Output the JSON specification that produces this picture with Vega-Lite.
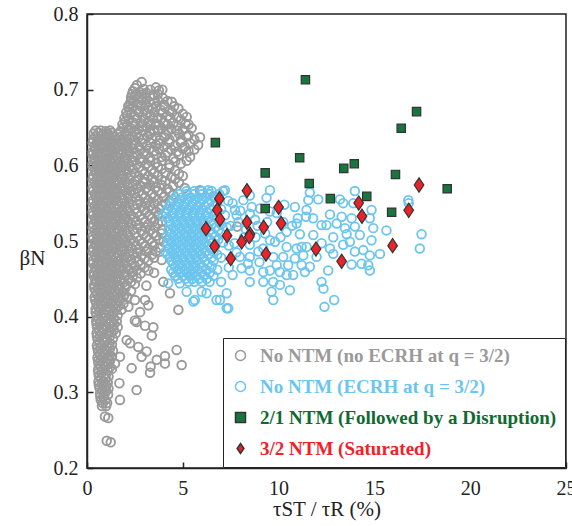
{
"$schema": "https://vega.github.io/schema/vega-lite/v6.json",
"width": 479, "height": 454,
"autosize": {"type": "none"},
"padding": {"left": 87, "top": 14, "right": 6, "bottom": 58},
"background": "white",
"config": {
  "view": {"stroke": "#222222", "strokeWidth": 1.5},
  "font": "Liberation Serif",
  "axis": {"labelFont": "Liberation Serif", "titleFont": "Liberation Serif", "labelFontSize": 20, "titleFontSize": 21, "titleFontWeight": "normal", "labelColor": "#222222", "titleColor": "#222222", "domainColor": "#222222", "tickColor": "#222222", "domainWidth": 1.5, "tickWidth": 1.5, "grid": false, "tickSize": -6}
},
"datasets": {
"gray": [
{"x":2.6,"y":0.706},{"x":2.85,"y":0.71},{"x":3.6,"y":0.703},
{"x":2.4,"y":0.698},{"x":2.75,"y":0.697},{"x":3.1,"y":0.696},{"x":3.93,"y":0.7},
{"x":2.3,"y":0.69},{"x":2.7,"y":0.689},{"x":3.1,"y":0.688},{"x":3.46,"y":0.693},{"x":3.95,"y":0.689},
{"x":2.25,"y":0.682},{"x":2.65,"y":0.681},{"x":3.05,"y":0.68},{"x":3.5,"y":0.682},{"x":4.0,"y":0.68},{"x":4.42,"y":0.684},
{"x":2.2,"y":0.674},{"x":2.6,"y":0.673},{"x":3.0,"y":0.672},{"x":3.4,"y":0.675},{"x":3.85,"y":0.673},{"x":4.3,"y":0.672},{"x":4.77,"y":0.675},
{"x":2.1,"y":0.666},{"x":2.5,"y":0.665},{"x":2.9,"y":0.664},{"x":3.3,"y":0.666},{"x":3.7,"y":0.663},{"x":4.2,"y":0.665},{"x":4.7,"y":0.664},{"x":5.2,"y":0.664},
{"x":2.0,"y":0.658},{"x":2.4,"y":0.657},{"x":2.8,"y":0.656},{"x":3.2,"y":0.658},{"x":3.6,"y":0.655},{"x":4.0,"y":0.657},{"x":4.5,"y":0.656},{"x":5.15,"y":0.655},
{"x":1.9,"y":0.65},{"x":2.3,"y":0.649},{"x":2.7,"y":0.648},{"x":3.1,"y":0.65},{"x":3.5,"y":0.647},{"x":3.9,"y":0.649},{"x":4.4,"y":0.648},{"x":5.0,"y":0.647},{"x":5.46,"y":0.649},
{"x":2.5,"y":0.702},{"x":2.95,"y":0.701},{"x":3.3,"y":0.7},{"x":3.75,"y":0.699},
{"x":2.35,"y":0.694},{"x":2.55,"y":0.693},{"x":2.9,"y":0.694},{"x":3.3,"y":0.692},{"x":3.7,"y":0.694},
{"x":2.3,"y":0.686},{"x":2.45,"y":0.685},{"x":2.85,"y":0.686},{"x":3.25,"y":0.684},{"x":3.7,"y":0.686},{"x":4.2,"y":0.685},
{"x":2.15,"y":0.678},{"x":2.4,"y":0.677},{"x":2.8,"y":0.678},{"x":3.2,"y":0.676},{"x":3.6,"y":0.678},{"x":4.05,"y":0.677},{"x":4.55,"y":0.678},
{"x":2.05,"y":0.67},{"x":2.3,"y":0.669},{"x":2.7,"y":0.67},{"x":3.1,"y":0.668},{"x":3.5,"y":0.67},{"x":3.95,"y":0.669},{"x":4.45,"y":0.67},{"x":5.0,"y":0.668},
{"x":1.95,"y":0.662},{"x":2.2,"y":0.661},{"x":2.6,"y":0.662},{"x":3.0,"y":0.66},{"x":3.45,"y":0.662},{"x":3.85,"y":0.661},{"x":4.35,"y":0.662},{"x":4.9,"y":0.66},
{"x":1.85,"y":0.654},{"x":2.1,"y":0.653},{"x":2.5,"y":0.654},{"x":2.9,"y":0.652},{"x":3.3,"y":0.654},{"x":3.75,"y":0.653},{"x":4.2,"y":0.654},{"x":4.75,"y":0.652},{"x":5.3,"y":0.654},
{"x":0.45,"y":0.646},{"x":0.72,"y":0.646},{"x":0.98,"y":0.645},{"x":1.2,"y":0.646},{"x":1.75,"y":0.645},{"x":2.15,"y":0.646},{"x":2.5,"y":0.645},{"x":2.9,"y":0.646},{"x":3.3,"y":0.645},{"x":3.7,"y":0.646},{"x":4.2,"y":0.645},{"x":4.7,"y":0.646},
{"x":0.35,"y":0.642},{"x":0.6,"y":0.643},{"x":0.85,"y":0.641},{"x":1.1,"y":0.642},{"x":1.3,"y":0.643},{"x":1.6,"y":0.641},{"x":2.0,"y":0.642},{"x":2.6,"y":0.641},{"x":3.3,"y":0.642},{"x":4.1,"y":0.641},{"x":4.8,"y":0.642},{"x":5.3,"y":0.64},
{"x":0.45,"y":0.638},{"x":0.68,"y":0.638},{"x":0.92,"y":0.637},{"x":1.18,"y":0.638},{"x":1.42,"y":0.638},{"x":1.7,"y":0.637},{"x":2.05,"y":0.638},{"x":2.35,"y":0.638},{"x":2.7,"y":0.637},{"x":3.15,"y":0.638},{"x":3.6,"y":0.638},{"x":4.05,"y":0.637},{"x":4.6,"y":0.638},{"x":5.2,"y":0.638},
{"x":0.32,"y":0.634},{"x":0.55,"y":0.634},{"x":0.8,"y":0.633},{"x":1.05,"y":0.635},{"x":1.3,"y":0.634},{"x":1.55,"y":0.633},{"x":1.85,"y":0.634},{"x":2.2,"y":0.635},{"x":2.5,"y":0.633},{"x":2.9,"y":0.634},{"x":3.4,"y":0.635},{"x":3.8,"y":0.633},{"x":4.3,"y":0.634},{"x":4.9,"y":0.633},{"x":5.6,"y":0.634},{"x":5.9,"y":0.637},
{"x":0.3,"y":0.63},{"x":0.52,"y":0.63},{"x":0.78,"y":0.629},{"x":1.02,"y":0.63},{"x":1.28,"y":0.63},{"x":1.55,"y":0.629},{"x":1.85,"y":0.63},{"x":2.15,"y":0.63},{"x":2.5,"y":0.629},{"x":2.9,"y":0.63},{"x":3.3,"y":0.63},{"x":3.8,"y":0.629},{"x":4.3,"y":0.63},{"x":4.9,"y":0.63},{"x":5.4,"y":0.629},
{"x":0.4,"y":0.626},{"x":0.65,"y":0.626},{"x":0.9,"y":0.625},{"x":1.15,"y":0.627},{"x":1.4,"y":0.626},{"x":1.7,"y":0.625},{"x":2.0,"y":0.626},{"x":2.35,"y":0.627},{"x":2.7,"y":0.625},{"x":3.1,"y":0.626},{"x":3.6,"y":0.627},{"x":4.0,"y":0.625},{"x":4.6,"y":0.626},{"x":5.1,"y":0.625},{"x":5.8,"y":0.627},
{"x":0.42,"y":0.622},{"x":0.68,"y":0.622},{"x":0.92,"y":0.621},{"x":1.18,"y":0.622},{"x":1.45,"y":0.622},{"x":1.75,"y":0.621},{"x":2.05,"y":0.622},{"x":2.4,"y":0.622},{"x":2.8,"y":0.621},{"x":3.25,"y":0.622},{"x":3.75,"y":0.622},{"x":4.4,"y":0.621},{"x":5.0,"y":0.622},{"x":5.6,"y":0.621},
{"x":0.3,"y":0.618},{"x":0.55,"y":0.618},{"x":0.8,"y":0.617},{"x":1.05,"y":0.619},{"x":1.3,"y":0.618},{"x":1.6,"y":0.617},{"x":1.9,"y":0.618},{"x":2.2,"y":0.619},{"x":2.55,"y":0.617},{"x":3.0,"y":0.618},{"x":3.5,"y":0.619},{"x":4.2,"y":0.617},{"x":4.7,"y":0.618},{"x":5.3,"y":0.619},
{"x":0.3,"y":0.614},{"x":0.5,"y":0.614},{"x":0.75,"y":0.613},{"x":1.0,"y":0.614},{"x":1.25,"y":0.614},{"x":1.5,"y":0.613},{"x":1.8,"y":0.614},{"x":2.2,"y":0.614},{"x":2.6,"y":0.613},{"x":3.05,"y":0.614},{"x":3.6,"y":0.614},{"x":4.1,"y":0.613},{"x":4.8,"y":0.614},
{"x":0.38,"y":0.61},{"x":0.62,"y":0.61},{"x":0.88,"y":0.609},{"x":1.12,"y":0.611},{"x":1.38,"y":0.61},{"x":1.65,"y":0.609},{"x":2.0,"y":0.61},{"x":2.4,"y":0.611},{"x":2.8,"y":0.609},{"x":3.3,"y":0.61},{"x":3.9,"y":0.611},{"x":4.5,"y":0.609},{"x":5.38,"y":0.611},
{"x":0.42,"y":0.606},{"x":0.68,"y":0.606},{"x":0.92,"y":0.605},{"x":1.18,"y":0.606},{"x":1.42,"y":0.606},{"x":1.7,"y":0.605},{"x":2.0,"y":0.606},{"x":2.35,"y":0.606},{"x":2.8,"y":0.605},{"x":3.3,"y":0.606},{"x":3.9,"y":0.606},{"x":4.6,"y":0.605},{"x":5.2,"y":0.606},
{"x":0.3,"y":0.602},{"x":0.55,"y":0.602},{"x":0.8,"y":0.601},{"x":1.05,"y":0.603},{"x":1.3,"y":0.602},{"x":1.55,"y":0.601},{"x":1.85,"y":0.602},{"x":2.15,"y":0.603},{"x":2.6,"y":0.601},{"x":3.1,"y":0.602},{"x":3.6,"y":0.603},{"x":4.3,"y":0.601},{"x":4.9,"y":0.602},
{"x":0.3,"y":0.598},{"x":0.55,"y":0.598},{"x":0.8,"y":0.597},{"x":1.05,"y":0.598},{"x":1.3,"y":0.598},{"x":1.6,"y":0.597},{"x":1.9,"y":0.598},{"x":2.25,"y":0.598},{"x":2.7,"y":0.597},{"x":3.2,"y":0.598},{"x":3.7,"y":0.598},{"x":4.3,"y":0.597},
{"x":0.42,"y":0.594},{"x":0.68,"y":0.594},{"x":0.92,"y":0.593},{"x":1.18,"y":0.595},{"x":1.45,"y":0.594},{"x":1.75,"y":0.593},{"x":2.05,"y":0.594},{"x":2.4,"y":0.595},{"x":2.9,"y":0.593},{"x":3.4,"y":0.594},{"x":3.9,"y":0.595},{"x":4.6,"y":0.593},
{"x":0.45,"y":0.59},{"x":0.7,"y":0.59},{"x":0.95,"y":0.589},{"x":1.2,"y":0.59},{"x":1.48,"y":0.59},{"x":1.78,"y":0.589},{"x":2.1,"y":0.59},{"x":2.5,"y":0.59},{"x":3.0,"y":0.589},{"x":3.5,"y":0.59},{"x":4.1,"y":0.59},{"x":4.8,"y":0.589},
{"x":0.33,"y":0.586},{"x":0.58,"y":0.586},{"x":0.82,"y":0.585},{"x":1.08,"y":0.587},{"x":1.35,"y":0.586},{"x":1.6,"y":0.585},{"x":1.9,"y":0.586},{"x":2.3,"y":0.587},{"x":2.7,"y":0.585},{"x":3.2,"y":0.586},{"x":3.7,"y":0.587},{"x":4.4,"y":0.585},{"x":5.0,"y":0.586},
{"x":0.3,"y":0.582},{"x":0.52,"y":0.582},{"x":0.78,"y":0.581},{"x":1.02,"y":0.582},{"x":1.28,"y":0.582},{"x":1.55,"y":0.581},{"x":1.85,"y":0.582},{"x":2.2,"y":0.582},{"x":2.6,"y":0.581},{"x":3.0,"y":0.582},{"x":3.4,"y":0.582},{"x":3.9,"y":0.581},{"x":4.6,"y":0.582},
{"x":0.4,"y":0.578},{"x":0.65,"y":0.578},{"x":0.9,"y":0.577},{"x":1.15,"y":0.579},{"x":1.42,"y":0.578},{"x":1.7,"y":0.577},{"x":2.0,"y":0.578},{"x":2.5,"y":0.579},{"x":3.0,"y":0.577},{"x":3.5,"y":0.578},{"x":4.1,"y":0.579},{"x":4.8,"y":0.577},
{"x":0.45,"y":0.574},{"x":0.7,"y":0.574},{"x":0.95,"y":0.573},{"x":1.2,"y":0.574},{"x":1.48,"y":0.574},{"x":1.78,"y":0.573},{"x":2.1,"y":0.574},{"x":2.4,"y":0.574},{"x":2.8,"y":0.573},{"x":3.3,"y":0.574},{"x":3.9,"y":0.574},{"x":4.5,"y":0.573},
{"x":0.3,"y":0.57},{"x":0.55,"y":0.57},{"x":0.8,"y":0.569},{"x":1.05,"y":0.571},{"x":1.3,"y":0.57},{"x":1.55,"y":0.569},{"x":1.85,"y":0.57},{"x":2.2,"y":0.571},{"x":2.6,"y":0.569},{"x":3.1,"y":0.57},{"x":3.6,"y":0.571},{"x":4.2,"y":0.569},{"x":5.1,"y":0.57},
{"x":0.32,"y":0.566},{"x":0.55,"y":0.566},{"x":0.8,"y":0.565},{"x":1.05,"y":0.566},{"x":1.32,"y":0.566},{"x":1.6,"y":0.565},{"x":1.95,"y":0.566},{"x":2.3,"y":0.566},{"x":2.7,"y":0.565},{"x":3.2,"y":0.566},{"x":3.7,"y":0.566},{"x":4.3,"y":0.565},
{"x":0.42,"y":0.562},{"x":0.68,"y":0.562},{"x":0.92,"y":0.561},{"x":1.2,"y":0.563},{"x":1.48,"y":0.562},{"x":1.78,"y":0.561},{"x":2.1,"y":0.562},{"x":2.45,"y":0.563},{"x":2.9,"y":0.561},{"x":3.4,"y":0.562},{"x":3.9,"y":0.563},{"x":4.5,"y":0.561},
{"x":0.45,"y":0.558},{"x":0.7,"y":0.558},{"x":0.95,"y":0.557},{"x":1.22,"y":0.558},{"x":1.5,"y":0.558},{"x":1.8,"y":0.557},{"x":2.15,"y":0.558},{"x":2.55,"y":0.558},{"x":3.0,"y":0.557},{"x":3.5,"y":0.558},{"x":4.0,"y":0.558},
{"x":0.32,"y":0.554},{"x":0.58,"y":0.554},{"x":0.82,"y":0.553},{"x":1.08,"y":0.555},{"x":1.35,"y":0.554},{"x":1.62,"y":0.553},{"x":1.95,"y":0.554},{"x":2.3,"y":0.555},{"x":2.75,"y":0.553},{"x":3.2,"y":0.554},{"x":3.7,"y":0.555},{"x":4.3,"y":0.553},
{"x":0.3,"y":0.55},{"x":0.52,"y":0.55},{"x":0.78,"y":0.549},{"x":1.02,"y":0.55},{"x":1.28,"y":0.55},{"x":1.55,"y":0.549},{"x":1.85,"y":0.55},{"x":2.2,"y":0.55},{"x":2.6,"y":0.549},{"x":3.05,"y":0.55},{"x":3.5,"y":0.55},{"x":4.1,"y":0.549},
{"x":0.4,"y":0.546},{"x":0.65,"y":0.546},{"x":0.9,"y":0.545},{"x":1.15,"y":0.547},{"x":1.42,"y":0.546},{"x":1.7,"y":0.545},{"x":2.0,"y":0.546},{"x":2.4,"y":0.547},{"x":2.85,"y":0.545},{"x":3.3,"y":0.546},{"x":3.9,"y":0.547},
{"x":0.45,"y":0.542},{"x":0.7,"y":0.542},{"x":0.95,"y":0.541},{"x":1.22,"y":0.542},{"x":1.5,"y":0.542},{"x":1.8,"y":0.541},{"x":2.1,"y":0.542},{"x":2.5,"y":0.542},{"x":3.0,"y":0.541},{"x":3.45,"y":0.542},{"x":3.8,"y":0.542},
{"x":0.3,"y":0.538},{"x":0.55,"y":0.538},{"x":0.8,"y":0.537},{"x":1.05,"y":0.539},{"x":1.3,"y":0.538},{"x":1.58,"y":0.537},{"x":1.88,"y":0.538},{"x":2.2,"y":0.539},{"x":2.6,"y":0.537},{"x":3.1,"y":0.538},{"x":3.6,"y":0.539},{"x":4.1,"y":0.537},
{"x":0.32,"y":0.534},{"x":0.55,"y":0.534},{"x":0.8,"y":0.533},{"x":1.05,"y":0.534},{"x":1.32,"y":0.534},{"x":1.62,"y":0.533},{"x":1.95,"y":0.534},{"x":2.3,"y":0.534},{"x":2.75,"y":0.533},{"x":3.25,"y":0.534},{"x":3.7,"y":0.534},
{"x":0.42,"y":0.53},{"x":0.68,"y":0.53},{"x":0.92,"y":0.529},{"x":1.18,"y":0.531},{"x":1.45,"y":0.53},{"x":1.75,"y":0.529},{"x":2.05,"y":0.53},{"x":2.45,"y":0.531},{"x":2.9,"y":0.529},{"x":3.4,"y":0.53},
{"x":0.45,"y":0.526},{"x":0.7,"y":0.526},{"x":0.95,"y":0.525},{"x":1.22,"y":0.526},{"x":1.5,"y":0.526},{"x":1.8,"y":0.525},{"x":2.15,"y":0.526},{"x":2.55,"y":0.526},{"x":3.0,"y":0.525},{"x":3.5,"y":0.526},{"x":3.9,"y":0.526},
{"x":0.33,"y":0.522},{"x":0.58,"y":0.522},{"x":0.82,"y":0.521},{"x":1.08,"y":0.523},{"x":1.35,"y":0.522},{"x":1.62,"y":0.521},{"x":1.92,"y":0.522},{"x":2.3,"y":0.523},{"x":2.7,"y":0.521},{"x":3.2,"y":0.522},{"x":3.7,"y":0.523},
{"x":0.3,"y":0.518},{"x":0.52,"y":0.518},{"x":0.78,"y":0.517},{"x":1.02,"y":0.518},{"x":1.28,"y":0.518},{"x":1.55,"y":0.517},{"x":1.85,"y":0.518},{"x":2.2,"y":0.518},{"x":2.6,"y":0.517},{"x":3.05,"y":0.518},{"x":3.55,"y":0.518},
{"x":0.4,"y":0.514},{"x":0.65,"y":0.514},{"x":0.9,"y":0.513},{"x":1.15,"y":0.515},{"x":1.42,"y":0.514},{"x":1.7,"y":0.513},{"x":2.0,"y":0.514},{"x":2.4,"y":0.515},{"x":2.85,"y":0.513},{"x":3.3,"y":0.514},{"x":3.9,"y":0.515},
{"x":0.45,"y":0.51},{"x":0.7,"y":0.51},{"x":0.95,"y":0.509},{"x":1.22,"y":0.51},{"x":1.5,"y":0.51},{"x":1.8,"y":0.509},{"x":2.1,"y":0.51},{"x":2.5,"y":0.51},{"x":2.95,"y":0.509},{"x":3.45,"y":0.51},{"x":3.9,"y":0.51},
{"x":0.3,"y":0.506},{"x":0.55,"y":0.506},{"x":0.8,"y":0.505},{"x":1.05,"y":0.507},{"x":1.3,"y":0.506},{"x":1.58,"y":0.505},{"x":1.88,"y":0.506},{"x":2.2,"y":0.507},{"x":2.6,"y":0.505},{"x":3.1,"y":0.506},{"x":3.6,"y":0.507},
{"x":0.32,"y":0.502},{"x":0.55,"y":0.502},{"x":0.8,"y":0.501},{"x":1.05,"y":0.502},{"x":1.32,"y":0.502},{"x":1.62,"y":0.501},{"x":1.95,"y":0.502},{"x":2.3,"y":0.502},{"x":2.75,"y":0.501},{"x":3.25,"y":0.502},{"x":3.75,"y":0.502},
{"x":0.42,"y":0.498},{"x":0.68,"y":0.498},{"x":0.92,"y":0.497},{"x":1.18,"y":0.499},{"x":1.45,"y":0.498},{"x":1.75,"y":0.497},{"x":2.05,"y":0.498},{"x":2.45,"y":0.499},{"x":2.9,"y":0.497},{"x":3.4,"y":0.498},{"x":4.0,"y":0.499},
{"x":0.45,"y":0.494},{"x":0.7,"y":0.494},{"x":0.95,"y":0.493},{"x":1.22,"y":0.494},{"x":1.5,"y":0.494},{"x":1.8,"y":0.493},{"x":2.15,"y":0.494},{"x":2.55,"y":0.494},{"x":3.0,"y":0.493},{"x":3.5,"y":0.494},
{"x":0.33,"y":0.49},{"x":0.58,"y":0.49},{"x":0.82,"y":0.489},{"x":1.08,"y":0.491},{"x":1.35,"y":0.49},{"x":1.62,"y":0.489},{"x":1.92,"y":0.49},{"x":2.3,"y":0.491},{"x":2.7,"y":0.489},{"x":3.2,"y":0.49},{"x":3.8,"y":0.491},
{"x":0.3,"y":0.486},{"x":0.52,"y":0.486},{"x":0.78,"y":0.485},{"x":1.02,"y":0.486},{"x":1.28,"y":0.486},{"x":1.55,"y":0.485},{"x":1.85,"y":0.486},{"x":2.2,"y":0.486},{"x":2.6,"y":0.485},{"x":3.1,"y":0.486},{"x":3.6,"y":0.486},
{"x":0.4,"y":0.482},{"x":0.65,"y":0.482},{"x":0.9,"y":0.481},{"x":1.15,"y":0.483},{"x":1.42,"y":0.482},{"x":1.7,"y":0.481},{"x":2.0,"y":0.482},{"x":2.4,"y":0.483},{"x":2.85,"y":0.481},{"x":3.4,"y":0.482},
{"x":0.45,"y":0.478},{"x":0.7,"y":0.478},{"x":0.95,"y":0.477},{"x":1.22,"y":0.478},{"x":1.5,"y":0.478},{"x":1.8,"y":0.477},{"x":2.1,"y":0.478},{"x":2.5,"y":0.478},{"x":3.0,"y":0.477},{"x":3.5,"y":0.478},
{"x":0.32,"y":0.474},{"x":0.58,"y":0.474},{"x":0.82,"y":0.473},{"x":1.08,"y":0.475},{"x":1.35,"y":0.474},{"x":1.62,"y":0.473},{"x":1.95,"y":0.474},{"x":2.3,"y":0.475},{"x":2.7,"y":0.473},{"x":3.2,"y":0.474},{"x":3.9,"y":0.475},
{"x":0.32,"y":0.47},{"x":0.55,"y":0.47},{"x":0.8,"y":0.469},{"x":1.05,"y":0.47},{"x":1.32,"y":0.47},{"x":1.62,"y":0.469},{"x":1.95,"y":0.47},{"x":2.35,"y":0.47},{"x":2.8,"y":0.469},
{"x":0.42,"y":0.466},{"x":0.68,"y":0.466},{"x":0.92,"y":0.465},{"x":1.18,"y":0.467},{"x":1.45,"y":0.466},{"x":1.75,"y":0.465},{"x":2.1,"y":0.466},{"x":2.5,"y":0.467},{"x":3.0,"y":0.465},
{"x":0.45,"y":0.462},{"x":0.7,"y":0.462},{"x":0.95,"y":0.461},{"x":1.22,"y":0.462},{"x":1.5,"y":0.462},{"x":1.8,"y":0.461},{"x":2.2,"y":0.462},{"x":2.6,"y":0.462},{"x":3.2,"y":0.461},
{"x":0.35,"y":0.458},{"x":0.6,"y":0.458},{"x":0.85,"y":0.457},{"x":1.1,"y":0.459},{"x":1.38,"y":0.458},{"x":1.65,"y":0.457},{"x":2.0,"y":0.458},{"x":2.4,"y":0.459},{"x":2.8,"y":0.457},{"x":3.5,"y":0.458},
{"x":0.35,"y":0.454},{"x":0.55,"y":0.454},{"x":0.8,"y":0.453},{"x":1.05,"y":0.454},{"x":1.32,"y":0.454},{"x":1.62,"y":0.453},{"x":2.0,"y":0.454},{"x":2.4,"y":0.454},
{"x":0.42,"y":0.45},{"x":0.68,"y":0.45},{"x":0.92,"y":0.449},{"x":1.2,"y":0.451},{"x":1.48,"y":0.45},{"x":1.8,"y":0.449},{"x":2.2,"y":0.45},{"x":2.6,"y":0.451},
{"x":0.45,"y":0.446},{"x":0.7,"y":0.446},{"x":0.95,"y":0.445},{"x":1.22,"y":0.446},{"x":1.55,"y":0.446},{"x":1.9,"y":0.445},{"x":2.3,"y":0.446},
{"x":0.38,"y":0.442},{"x":0.62,"y":0.442},{"x":0.88,"y":0.441},{"x":1.12,"y":0.443},{"x":1.4,"y":0.442},{"x":1.7,"y":0.441},{"x":2.05,"y":0.442},{"x":2.5,"y":0.443},{"x":3.1,"y":0.441},
{"x":0.38,"y":0.438},{"x":0.58,"y":0.438},{"x":0.82,"y":0.437},{"x":1.08,"y":0.438},{"x":1.35,"y":0.438},{"x":1.65,"y":0.437},{"x":2.0,"y":0.438},
{"x":0.45,"y":0.434},{"x":0.7,"y":0.434},{"x":0.95,"y":0.433},{"x":1.2,"y":0.435},{"x":1.5,"y":0.434},{"x":1.85,"y":0.433},{"x":2.3,"y":0.434},
{"x":0.5,"y":0.43},{"x":0.75,"y":0.43},{"x":1.0,"y":0.429},{"x":1.28,"y":0.43},{"x":1.6,"y":0.43},{"x":1.95,"y":0.429},
{"x":0.4,"y":0.426},{"x":0.65,"y":0.426},{"x":0.9,"y":0.425},{"x":1.15,"y":0.427},{"x":1.42,"y":0.426},{"x":1.75,"y":0.425},{"x":2.1,"y":0.426},
{"x":0.42,"y":0.422},{"x":0.62,"y":0.422},{"x":0.85,"y":0.421},{"x":1.1,"y":0.422},{"x":1.38,"y":0.422},{"x":1.7,"y":0.421},
{"x":0.48,"y":0.418},{"x":0.72,"y":0.418},{"x":0.98,"y":0.417},{"x":1.25,"y":0.419},{"x":1.55,"y":0.418},{"x":1.9,"y":0.417},
{"x":0.55,"y":0.414},{"x":0.8,"y":0.414},{"x":1.05,"y":0.413},{"x":1.35,"y":0.414},{"x":1.65,"y":0.414},
{"x":0.45,"y":0.41},{"x":0.7,"y":0.41},{"x":0.95,"y":0.409},{"x":1.2,"y":0.411},{"x":1.5,"y":0.41},{"x":1.8,"y":0.409},
{"x":0.45,"y":0.406},{"x":0.65,"y":0.406},{"x":0.88,"y":0.405},{"x":1.12,"y":0.406},{"x":1.42,"y":0.406},
{"x":0.5,"y":0.402},{"x":0.75,"y":0.402},{"x":1.0,"y":0.401},{"x":1.28,"y":0.403},{"x":1.6,"y":0.402},
{"x":0.58,"y":0.398},{"x":0.85,"y":0.398},{"x":1.1,"y":0.397},{"x":1.4,"y":0.398},
{"x":0.48,"y":0.394},{"x":0.72,"y":0.394},{"x":0.98,"y":0.393},{"x":1.25,"y":0.395},{"x":1.55,"y":0.394},
{"x":0.5,"y":0.39},{"x":0.68,"y":0.39},{"x":0.9,"y":0.389},{"x":1.15,"y":0.39},{"x":1.42,"y":0.39},
{"x":0.52,"y":0.386},{"x":0.78,"y":0.386},{"x":1.02,"y":0.385},{"x":1.3,"y":0.387},{"x":1.6,"y":0.386},
{"x":0.62,"y":0.382},{"x":0.88,"y":0.382},{"x":1.15,"y":0.381},{"x":1.4,"y":0.382},
{"x":0.5,"y":0.378},{"x":0.75,"y":0.378},{"x":1.0,"y":0.377},{"x":1.25,"y":0.379},{"x":1.5,"y":0.378},
{"x":0.52,"y":0.374},{"x":0.68,"y":0.374},{"x":0.92,"y":0.373},{"x":1.2,"y":0.374},
{"x":0.55,"y":0.37},{"x":0.8,"y":0.37},{"x":1.05,"y":0.369},{"x":1.35,"y":0.371},
{"x":0.65,"y":0.366},{"x":0.9,"y":0.366},{"x":1.18,"y":0.365},
{"x":0.52,"y":0.362},{"x":0.78,"y":0.362},{"x":1.02,"y":0.361},{"x":1.3,"y":0.363},
{"x":0.55,"y":0.358},{"x":0.7,"y":0.358},{"x":0.95,"y":0.357},{"x":1.2,"y":0.358},
{"x":0.58,"y":0.354},{"x":0.82,"y":0.354},{"x":1.08,"y":0.353},{"x":1.35,"y":0.355},
{"x":0.68,"y":0.35},{"x":0.92,"y":0.35},{"x":1.18,"y":0.349},
{"x":0.55,"y":0.346},{"x":0.8,"y":0.346},{"x":1.05,"y":0.345},{"x":1.3,"y":0.347},
{"x":0.58,"y":0.342},{"x":0.72,"y":0.342},{"x":0.98,"y":0.341},{"x":1.2,"y":0.342},
{"x":0.6,"y":0.338},{"x":0.85,"y":0.338},{"x":1.1,"y":0.337},
{"x":0.7,"y":0.334},{"x":0.95,"y":0.334},{"x":1.2,"y":0.333},
{"x":0.58,"y":0.33},{"x":0.82,"y":0.33},{"x":1.08,"y":0.329},{"x":1.3,"y":0.331},
{"x":0.6,"y":0.326},{"x":0.75,"y":0.326},{"x":1.0,"y":0.325},
{"x":0.62,"y":0.322},{"x":0.88,"y":0.322},{"x":1.12,"y":0.321},
{"x":0.72,"y":0.318},{"x":0.98,"y":0.318},
{"x":0.6,"y":0.314},{"x":0.85,"y":0.314},{"x":1.08,"y":0.313},
{"x":0.62,"y":0.31},{"x":0.78,"y":0.31},{"x":1.0,"y":0.309},
{"x":0.65,"y":0.306},{"x":0.9,"y":0.306},{"x":1.12,"y":0.305},
{"x":0.8,"y":0.302},{"x":1.0,"y":0.302},
{"x":0.68,"y":0.298},{"x":0.92,"y":0.298},{"x":1.1,"y":0.297},
{"x":0.7,"y":0.294},{"x":0.85,"y":0.294},
{"x":0.72,"y":0.29},{"x":0.95,"y":0.29},
{"x":0.82,"y":0.286},{"x":1.05,"y":0.286},
{"x":0.78,"y":0.282},{"x":1.0,"y":0.282},
{"x":0.94,"y":0.268},{"x":1.11,"y":0.266},{"x":1.03,"y":0.236},{"x":1.24,"y":0.234},
{"x":1.72,"y":0.29},{"x":2.59,"y":0.303},{"x":1.69,"y":0.312},{"x":2.33,"y":0.332},{"x":3.29,"y":0.326},{"x":3.32,"y":0.334},{"x":4.07,"y":0.338},{"x":4.94,"y":0.336},{"x":4.68,"y":0.356},{"x":4.07,"y":0.348},{"x":3.64,"y":0.343},{"x":3.11,"y":0.354},{"x":2.85,"y":0.347},{"x":2.68,"y":0.36},{"x":2.25,"y":0.365},{"x":2.07,"y":0.369},{"x":1.72,"y":0.347},{"x":1.46,"y":0.338},{"x":3.46,"y":0.386},{"x":3.38,"y":0.375},{"x":3.03,"y":0.388},{"x":2.59,"y":0.393},{"x":2.5,"y":0.395},{"x":2.77,"y":0.406},{"x":3.2,"y":0.415},{"x":2.5,"y":0.422},{"x":3.03,"y":0.422},{"x":2.16,"y":0.413},{"x":1.9,"y":0.426},{"x":3.98,"y":0.446},{"x":4.33,"y":0.431},{"x":4.77,"y":0.409},
{"x":7.84,"y":0.519},{"x":6.6,"y":0.559},{"x":5.9,"y":0.567}
],
"blue": [
{"x":5.2,"y":0.566},{"x":5.6,"y":0.566},{"x":6.0,"y":0.566},{"x":6.5,"y":0.566},{"x":7.1,"y":0.566},
{"x":4.8,"y":0.562},{"x":5.2,"y":0.562},{"x":5.6,"y":0.562},{"x":6.0,"y":0.562},{"x":6.4,"y":0.562},{"x":6.9,"y":0.562},
{"x":4.6,"y":0.558},{"x":5.0,"y":0.558},{"x":5.4,"y":0.558},{"x":5.8,"y":0.558},{"x":6.2,"y":0.558},{"x":6.7,"y":0.558},
{"x":4.5,"y":0.554},{"x":4.9,"y":0.554},{"x":5.25,"y":0.554},{"x":5.6,"y":0.554},{"x":6.0,"y":0.554},{"x":6.45,"y":0.554},
{"x":4.4,"y":0.55},{"x":4.8,"y":0.55},{"x":5.1,"y":0.55},{"x":5.5,"y":0.55},{"x":5.9,"y":0.55},{"x":6.3,"y":0.55},{"x":6.8,"y":0.55},
{"x":4.3,"y":0.546},{"x":4.7,"y":0.546},{"x":5.05,"y":0.546},{"x":5.45,"y":0.546},{"x":5.8,"y":0.546},{"x":6.15,"y":0.546},{"x":6.6,"y":0.546},
{"x":4.2,"y":0.542},{"x":4.6,"y":0.542},{"x":4.95,"y":0.542},{"x":5.3,"y":0.542},{"x":5.65,"y":0.542},{"x":6.0,"y":0.542},{"x":6.4,"y":0.542},{"x":7.0,"y":0.542},
{"x":4.1,"y":0.538},{"x":4.5,"y":0.538},{"x":4.85,"y":0.538},{"x":5.2,"y":0.538},{"x":5.55,"y":0.538},{"x":5.9,"y":0.538},{"x":6.25,"y":0.538},{"x":6.75,"y":0.538},
{"x":3.95,"y":0.533},{"x":4.4,"y":0.534},{"x":4.8,"y":0.534},{"x":5.15,"y":0.534},{"x":5.5,"y":0.534},{"x":5.85,"y":0.534},{"x":6.2,"y":0.534},{"x":6.6,"y":0.534},{"x":7.2,"y":0.534},
{"x":4.2,"y":0.53},{"x":4.55,"y":0.53},{"x":4.9,"y":0.53},{"x":5.25,"y":0.53},{"x":5.6,"y":0.53},{"x":5.95,"y":0.53},{"x":6.35,"y":0.53},{"x":6.8,"y":0.53},
{"x":4.3,"y":0.526},{"x":4.65,"y":0.526},{"x":5.0,"y":0.526},{"x":5.35,"y":0.526},{"x":5.7,"y":0.526},{"x":6.05,"y":0.526},{"x":6.45,"y":0.526},{"x":6.9,"y":0.526},
{"x":4.35,"y":0.522},{"x":4.7,"y":0.522},{"x":5.05,"y":0.522},{"x":5.4,"y":0.522},{"x":5.75,"y":0.522},{"x":6.1,"y":0.522},{"x":6.5,"y":0.522},{"x":7.0,"y":0.522},
{"x":4.5,"y":0.518},{"x":4.85,"y":0.518},{"x":5.2,"y":0.518},{"x":5.55,"y":0.518},{"x":5.9,"y":0.518},{"x":6.3,"y":0.518},{"x":6.7,"y":0.518},{"x":7.3,"y":0.518},
{"x":4.25,"y":0.514},{"x":4.6,"y":0.514},{"x":4.95,"y":0.514},{"x":5.3,"y":0.514},{"x":5.65,"y":0.514},{"x":6.0,"y":0.514},{"x":6.4,"y":0.514},{"x":6.85,"y":0.514},
{"x":4.4,"y":0.51},{"x":4.75,"y":0.51},{"x":5.1,"y":0.51},{"x":5.45,"y":0.51},{"x":5.8,"y":0.51},{"x":6.15,"y":0.51},{"x":6.55,"y":0.51},{"x":7.0,"y":0.51},
{"x":4.15,"y":0.506},{"x":4.5,"y":0.506},{"x":4.85,"y":0.506},{"x":5.2,"y":0.506},{"x":5.55,"y":0.506},{"x":5.9,"y":0.506},{"x":6.25,"y":0.506},{"x":6.7,"y":0.506},
{"x":4.3,"y":0.502},{"x":4.65,"y":0.502},{"x":5.0,"y":0.502},{"x":5.35,"y":0.502},{"x":5.7,"y":0.502},{"x":6.05,"y":0.502},{"x":6.4,"y":0.502},{"x":6.85,"y":0.502},
{"x":4.4,"y":0.498},{"x":4.75,"y":0.498},{"x":5.1,"y":0.498},{"x":5.45,"y":0.498},{"x":5.8,"y":0.498},{"x":6.15,"y":0.498},{"x":6.55,"y":0.498},{"x":7.1,"y":0.498},
{"x":4.2,"y":0.494},{"x":4.55,"y":0.494},{"x":4.9,"y":0.494},{"x":5.25,"y":0.494},{"x":5.6,"y":0.494},{"x":5.95,"y":0.494},{"x":6.3,"y":0.494},{"x":6.7,"y":0.494},{"x":7.4,"y":0.494},
{"x":4.3,"y":0.49},{"x":4.65,"y":0.49},{"x":5.0,"y":0.49},{"x":5.35,"y":0.49},{"x":5.7,"y":0.49},{"x":6.05,"y":0.49},{"x":6.45,"y":0.49},
{"x":4.1,"y":0.486},{"x":4.45,"y":0.486},{"x":4.8,"y":0.486},{"x":5.15,"y":0.486},{"x":5.5,"y":0.486},{"x":5.85,"y":0.486},{"x":6.2,"y":0.486},{"x":6.6,"y":0.486},
{"x":4.2,"y":0.482},{"x":4.55,"y":0.482},{"x":4.9,"y":0.482},{"x":5.25,"y":0.482},{"x":5.6,"y":0.482},{"x":5.95,"y":0.482},{"x":6.35,"y":0.482},{"x":6.8,"y":0.482},
{"x":4.33,"y":0.479},{"x":4.65,"y":0.478},{"x":5.0,"y":0.478},{"x":5.35,"y":0.478},{"x":5.7,"y":0.478},{"x":6.05,"y":0.478},{"x":6.5,"y":0.478},{"x":7.0,"y":0.478},
{"x":4.4,"y":0.474},{"x":4.7,"y":0.474},{"x":5.05,"y":0.474},{"x":5.4,"y":0.474},{"x":5.75,"y":0.474},{"x":6.15,"y":0.474},{"x":6.6,"y":0.474},
{"x":4.5,"y":0.47},{"x":4.85,"y":0.47},{"x":5.2,"y":0.47},{"x":5.55,"y":0.47},{"x":5.9,"y":0.47},{"x":6.3,"y":0.47},
{"x":4.6,"y":0.466},{"x":4.95,"y":0.466},{"x":5.3,"y":0.466},{"x":5.65,"y":0.466},{"x":6.0,"y":0.466},{"x":6.5,"y":0.466},
{"x":4.4,"y":0.462},{"x":4.75,"y":0.462},{"x":5.1,"y":0.462},{"x":5.45,"y":0.462},{"x":5.8,"y":0.462},{"x":6.2,"y":0.462},{"x":6.8,"y":0.462},
{"x":4.5,"y":0.458},{"x":4.85,"y":0.458},{"x":5.2,"y":0.458},{"x":5.55,"y":0.458},{"x":5.95,"y":0.458},{"x":6.4,"y":0.458},
{"x":4.6,"y":0.454},{"x":5.0,"y":0.454},{"x":5.35,"y":0.454},{"x":5.7,"y":0.454},{"x":6.1,"y":0.454},{"x":6.6,"y":0.454},
{"x":4.75,"y":0.45},{"x":5.15,"y":0.45},{"x":5.5,"y":0.45},{"x":5.85,"y":0.45},{"x":6.25,"y":0.45},
{"x":4.24,"y":0.444},{"x":4.85,"y":0.444},{"x":5.3,"y":0.446},{"x":5.6,"y":0.446},{"x":6.0,"y":0.446},{"x":6.4,"y":0.446},{"x":7.0,"y":0.446},
{"x":5.2,"y":0.433},{"x":5.55,"y":0.42},{"x":5.98,"y":0.433},{"x":6.24,"y":0.431},{"x":5.63,"y":0.422},{"x":6.76,"y":0.422},{"x":6.94,"y":0.422},{"x":7.29,"y":0.431},{"x":7.37,"y":0.411},{"x":7.29,"y":0.411},
{"x":9.55,"y":0.567},{"x":11.63,"y":0.564},{"x":13.98,"y":0.566},{"x":12.07,"y":0.555},{"x":11.55,"y":0.554},{"x":13.2,"y":0.555},{"x":13.37,"y":0.55},{"x":13.9,"y":0.55},{"x":16.77,"y":0.554},{"x":9.37,"y":0.557},{"x":8.16,"y":0.554},{"x":8.5,"y":0.56},{"x":7.2,"y":0.567},{"x":6.33,"y":0.567},{"x":7.37,"y":0.553},
{"x":9.03,"y":0.543},{"x":9.55,"y":0.539},{"x":10.85,"y":0.545},{"x":11.46,"y":0.541},{"x":11.43,"y":0.532},{"x":12.68,"y":0.535},{"x":13.29,"y":0.532},{"x":13.81,"y":0.53},{"x":14.85,"y":0.541},{"x":14.76,"y":0.53},{"x":12.24,"y":0.521},{"x":12.5,"y":0.521},{"x":13.03,"y":0.523},{"x":13.46,"y":0.517},{"x":13.98,"y":0.519},{"x":14.94,"y":0.517},{"x":15.63,"y":0.514},{"x":8.5,"y":0.536},{"x":7.81,"y":0.534},{"x":8.77,"y":0.528},{"x":10.24,"y":0.525},{"x":10.94,"y":0.523},{"x":7.72,"y":0.541},
{"x":10.42,"y":0.512},{"x":11.11,"y":0.509},{"x":11.81,"y":0.508},{"x":12.85,"y":0.505},{"x":13.55,"y":0.509},{"x":14.24,"y":0.508},{"x":14.85,"y":0.501},{"x":13.72,"y":0.499},{"x":17.46,"y":0.509},{"x":9.55,"y":0.501},{"x":9.81,"y":0.499},{"x":9.2,"y":0.49},{"x":10.42,"y":0.492},{"x":10.94,"y":0.49},{"x":11.2,"y":0.492},{"x":11.46,"y":0.492},{"x":12.24,"y":0.497},{"x":12.68,"y":0.49},{"x":13.37,"y":0.495},{"x":13.98,"y":0.486},{"x":14.42,"y":0.488},{"x":14.76,"y":0.481},{"x":15.29,"y":0.483},{"x":17.37,"y":0.49},{"x":8.5,"y":0.495},{"x":8.94,"y":0.486},
{"x":7.98,"y":0.479},{"x":8.5,"y":0.479},{"x":9.72,"y":0.479},{"x":10.24,"y":0.479},{"x":10.85,"y":0.477},{"x":11.29,"y":0.481},{"x":11.98,"y":0.479},{"x":12.85,"y":0.483},{"x":13.81,"y":0.469},{"x":14.33,"y":0.47},{"x":14.68,"y":0.468},{"x":14.76,"y":0.461},{"x":12.59,"y":0.461},{"x":11.63,"y":0.466},{"x":11.2,"y":0.468},{"x":10.5,"y":0.468},{"x":9.9,"y":0.468},{"x":9.55,"y":0.461},{"x":8.5,"y":0.461},{"x":8.07,"y":0.464},{"x":9.2,"y":0.459},{"x":10.07,"y":0.459},{"x":10.76,"y":0.455},{"x":11.37,"y":0.459},{"x":10.42,"y":0.455},
{"x":8.5,"y":0.446},{"x":9.2,"y":0.446},{"x":9.72,"y":0.446},{"x":10.07,"y":0.442},{"x":12.24,"y":0.446},{"x":12.34,"y":0.437},{"x":10.59,"y":0.435},{"x":9.63,"y":0.433},{"x":9.72,"y":0.422},{"x":12.39,"y":0.413},{"x":12.9,"y":0.422},
{"x":7.6,"y":0.55},{"x":7.9,"y":0.525},{"x":8.3,"y":0.515},{"x":8.9,"y":0.52},{"x":8.2,"y":0.505},{"x":7.7,"y":0.497},{"x":8.6,"y":0.545},{"x":9.3,"y":0.51},{"x":8.0,"y":0.54},{"x":7.5,"y":0.52},{"x":7.8,"y":0.485},{"x":8.4,"y":0.47},{"x":9.0,"y":0.472},{"x":7.4,"y":0.465},{"x":7.6,"y":0.455},{"x":8.8,"y":0.505},{"x":9.4,"y":0.525},{"x":9.9,"y":0.537},{"x":10.3,"y":0.548},{"x":10.7,"y":0.52},{"x":10.1,"y":0.505},{"x":11.0,"y":0.53},{"x":11.8,"y":0.53},{"x":16.79,"y":0.55}
],
"green": [
{"x":6.7,"y":0.63},{"x":11.4,"y":0.713},{"x":11.1,"y":0.61},{"x":9.3,"y":0.59},{"x":17.2,"y":0.671},{"x":16.4,"y":0.649},{"x":13.95,"y":0.602},{"x":13.4,"y":0.596},{"x":16.1,"y":0.588},{"x":18.8,"y":0.569},{"x":11.6,"y":0.576},{"x":12.7,"y":0.556},{"x":14.6,"y":0.559},{"x":15.9,"y":0.538},{"x":9.3,"y":0.543}
],
"red": [
{"x":8.35,"y":0.5665},{"x":6.91,"y":0.556},{"x":6.8,"y":0.541},{"x":10.0,"y":0.5445},{"x":6.94,"y":0.5287},{"x":8.35,"y":0.5247},{"x":10.13,"y":0.5234},{"x":6.21,"y":0.5163},{"x":9.22,"y":0.5181},{"x":7.31,"y":0.507},{"x":8.51,"y":0.5089},{"x":8.47,"y":0.5057},{"x":8.07,"y":0.4987},{"x":6.66,"y":0.493},{"x":11.95,"y":0.4894},{"x":9.34,"y":0.4828},{"x":7.5,"y":0.4766},{"x":17.33,"y":0.574},{"x":14.18,"y":0.5502},{"x":16.79,"y":0.5406},{"x":14.35,"y":0.5327},{"x":15.95,"y":0.4938},{"x":13.29,"y":0.4732}
]
},
"encoding": {
  "x": {"field": "x", "type": "quantitative", "scale": {"domain": [0, 25], "nice": false, "zero": false},
        "axis": {"values": [0, 5, 10, 15, 20, 25], "title": "τST / τR (%)", "labelPadding": 16, "titlePadding": 0, "labelFlush": false}},
  "y": {"field": "y", "type": "quantitative", "scale": {"domain": [0.2, 0.8], "nice": false, "zero": false},
        "axis": {"values": [0.2, 0.3, 0.4, 0.5, 0.6, 0.7, 0.8], "format": ".1f", "title": "βN", "titleAngle": 0, "titleX": -55, "titleY": 244, "titleAlign": "center", "titleBaseline": "middle", "labelPadding": 15, "labelFlush": false}}
},
"layer": [
  {"data": {"name": "gray"},
   "mark": {"type": "point", "filled": true, "size": 75, "strokeWidth": 1.9, "opacity": 1},
   "encoding": {
     "shape": {"datum": "No NTM (no ECRH at q = 3/2)", "type": "nominal",
       "scale": {"domain": ["No NTM (no ECRH at q = 3/2)", "No NTM (ECRH at q = 3/2)", "2/1 NTM (Followed by a Disruption)", "3/2 NTM (Saturated)"], "range": ["circle", "circle", "square", "M0,-1L0.68,0L0,1L-0.68,0Z"]},
       "legend": {"orient": "none", "legendX": 136, "legendY": 324, "title": null, "strokeColor": "#222222", "fillColor": "white", "padding": 8, "labelFont": "Liberation Serif", "labelFontSize": 19, "labelFontWeight": "bold", "rowPadding": 11, "symbolSize": 100, "symbolStrokeWidth": 1.5, "labelOffset": 10, "labelLimit": 400,
         "labelColor": {"expr": "datum.value == 'No NTM (no ECRH at q = 3/2)' ? '#9a9a9a' : datum.value == 'No NTM (ECRH at q = 3/2)' ? '#6cc5ee' : datum.value == '2/1 NTM (Followed by a Disruption)' ? '#0e6b30' : '#ee2228'"},
         "encode": {
           "legend": {"update": {"strokeWidth": {"value": 2}}},
           "symbols": {"update": {"size": {"signal": "datum.value == '3/2 NTM (Saturated)' ? 200 : 100"}}}
         }}},
     "fill": {"datum": "No NTM (no ECRH at q = 3/2)", "type": "nominal",
       "scale": {"domain": ["No NTM (no ECRH at q = 3/2)", "No NTM (ECRH at q = 3/2)", "2/1 NTM (Followed by a Disruption)", "3/2 NTM (Saturated)"], "range": ["transparent", "transparent", "#17763d", "#e8232a"]}},
     "stroke": {"datum": "No NTM (no ECRH at q = 3/2)", "type": "nominal",
       "scale": {"domain": ["No NTM (no ECRH at q = 3/2)", "No NTM (ECRH at q = 3/2)", "2/1 NTM (Followed by a Disruption)", "3/2 NTM (Saturated)"], "range": ["#9a9a9a", "#6cc5ee", "#333333", "#333333"]}}
   }},
  {"data": {"name": "blue"},
   "mark": {"type": "point", "filled": true, "size": 75, "strokeWidth": 1.8, "opacity": 1},
   "encoding": {
     "shape": {"datum": "No NTM (ECRH at q = 3/2)", "type": "nominal"},
     "fill": {"datum": "No NTM (ECRH at q = 3/2)", "type": "nominal"},
     "stroke": {"datum": "No NTM (ECRH at q = 3/2)", "type": "nominal"}
   }},
  {"data": {"name": "green"},
   "mark": {"type": "point", "filled": true, "size": 70, "strokeWidth": 1.2, "opacity": 1},
   "encoding": {
     "shape": {"datum": "2/1 NTM (Followed by a Disruption)", "type": "nominal"},
     "fill": {"datum": "2/1 NTM (Followed by a Disruption)", "type": "nominal"},
     "stroke": {"datum": "2/1 NTM (Followed by a Disruption)", "type": "nominal"}
   }},
  {"data": {"name": "red"},
   "mark": {"type": "point", "filled": true, "size": 200, "strokeWidth": 1.2, "opacity": 1},
   "encoding": {
     "shape": {"datum": "3/2 NTM (Saturated)", "type": "nominal"},
     "fill": {"datum": "3/2 NTM (Saturated)", "type": "nominal"},
     "stroke": {"datum": "3/2 NTM (Saturated)", "type": "nominal"}
   }}
]
}
